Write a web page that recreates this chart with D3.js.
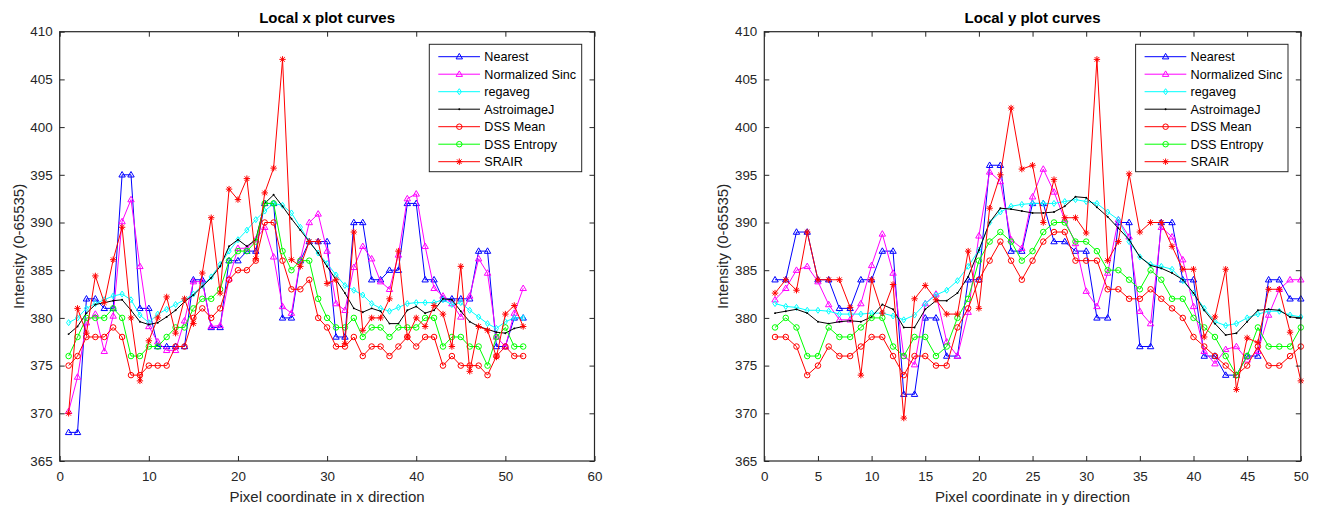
<!DOCTYPE html>
<html>
<head>
<meta charset="utf-8">
<script src="https://cdn.jsdelivr.net/npm/d3@7"></script>
<style>
  body { margin: 0; background: #fff; }
  svg text { font-family: "Liberation Sans", Arial, Helvetica, sans-serif; fill: #262626; }
</style>
</head>
<body>
<svg id="chart" width="1323" height="510"></svg>
<script>
// ---- Series names, tick labels and values ----
const seriesNames = ["Nearest", "Normalized Sinc", "regaveg", "AstroimageJ", "DSS Mean", "DSS Entropy", "SRAIR"];

const xTicksLeft = [0, 10, 20, 30, 40, 50, 60];
const xTicksRight = [0, 5, 10, 15, 20, 25, 30, 35, 40, 45, 50];
const yTicks = [365, 370, 375, 380, 385, 390, 395, 400, 405, 410];

// Local x profile (pixels 1..52)
const nearestX = [368, 368, 382, 382, 381, 381, 395, 395, 381, 381, 377, 377, 377, 377, 384, 384, 379, 379, 386, 386,
  387, 387, 392, 392, 380, 380, 386, 388, 388, 388, 378, 378, 390, 390, 384, 384, 385, 385, 392, 392,
  384, 384, 382, 382, 382, 382, 387, 387, 377, 377, 380, 380];
const sincX = [370.2, 373.8, 379.5, 380.4, 376.5, 380.2, 390.1, 392.4, 385.4, 379.1, 377.5, 376.6, 376.6, 379.7, 383.8, 383.8, 379.1, 379.2, 384.1, 387.3,
  387.3, 388.2, 389.5, 386.4, 381.2, 380.5, 386.1, 390.0, 390.9, 387.0, 381.5, 380.8, 385.3, 387.5, 386.2, 383.8, 383.0, 386.6, 392.5, 393.0,
  387.5, 383.1, 382.3, 381.5, 380.1, 382.3, 386.2, 384.7, 378.0, 377.0, 380.5, 383.1];
const regavegX = [379.5, 380.0, 381.0, 381.5, 381.9, 382.3, 382.5, 381.9, 380.3, 379.5, 380.4, 380.9, 381.4, 381.9, 382.5, 383.4, 384.3, 385.6, 387.0, 388.2,
  389.2, 390.3, 391.2, 392.0, 391.8, 391.0, 389.5, 388.0, 386.8, 385.7, 384.5, 383.4, 382.9, 382.4, 381.5, 381.0, 380.7, 381.1, 381.5, 381.6,
  381.6, 381.6, 381.9, 381.4, 381.6, 380.8, 380.1, 379.4, 378.9, 379.6, 380.0, 380.0];
const astroX = [378.3, 379.1, 380.5, 381.4, 381.6, 381.8, 381.9, 380.8, 379.6, 379.3, 379.5, 380.1, 380.8, 381.7, 382.4, 383.3, 384.2, 385.4, 387.5, 388.2,
  387.5, 388.2, 392.0, 392.9, 391.7, 390.4, 389.2, 388.0, 386.8, 385.4, 384.0, 382.6, 381.0, 380.6, 381.0, 380.7, 379.4, 379.4, 380.8, 381.2,
  380.5, 380.8, 382.0, 381.9, 380.7, 379.6, 379.1, 378.8, 378.5, 378.4, 378.9, 379.1];
const dssMeanX = [375, 376, 378, 378, 378, 379, 378, 374, 374, 375, 375, 375, 377, 377, 380, 381, 380, 381, 384, 385,
  385, 386, 390, 390, 386, 383, 383, 384, 380, 379, 377, 377, 378, 376, 377, 377, 376, 377, 378, 377,
  378, 378, 375, 376, 375, 375, 375, 374, 376, 377, 376, 376];
const dssEntropyX = [376, 378, 380, 380, 380, 381, 380, 376, 376, 377, 377, 378, 379, 379, 381, 382, 382, 383, 386, 387,
  387, 388, 392, 392, 387, 385, 386, 386, 382, 380, 379, 379, 380, 378, 379, 379, 378, 379, 379, 379,
  380, 380, 377, 378, 378, 377, 377, 375, 378, 379, 377, 377];
const srairX = [370.0, 381.0, 378.4, 384.4, 381.6, 386.1, 389.5, 380.0, 373.4, 377.6, 380.0, 382.2, 378.4, 382.0, 379.4, 384.7, 390.5, 382.6, 393.5, 392.4,
  394.6, 386.2, 393.1, 395.7, 407.1, 386.1, 385.4, 388.0, 388.0, 383.6, 384.0, 377.3, 389.0, 378.7, 380.0, 380.0, 382.0, 387.0, 378.0, 380.0,
  379.1, 381.3, 380.4, 377.0, 385.4, 374.4, 379.1, 378.7, 375.9, 380.4, 381.3, 379.1];

// Local y profile (pixels 1..50)
const nearestY = [384, 384, 389, 389, 384, 384, 381, 381, 384, 384, 387, 387, 372, 372, 380, 380, 376, 376, 384, 384,
  396, 396, 387, 387, 392, 392, 388, 388, 387, 387, 380, 380, 390, 390, 377, 377, 390, 390, 384, 384,
  376, 376, 374, 374, 376, 376, 384, 384, 382, 382];
const sincY = [381.9, 383.1, 385.0, 385.4, 383.8, 381.4, 379.8, 379.8, 381.5, 385.5, 388.8, 384.7, 376.0, 375.1, 381.5, 382.5, 377.5, 376.0, 380.6, 388.6,
  395.3, 394.3, 388.2, 387.3, 392.7, 395.6, 393.2, 390.3, 387.8, 382.8, 381.2, 384.7, 390.3, 388.5, 380.7, 379.4, 389.5, 388.5, 386.1, 381.2,
  376.5, 375.2, 376.7, 377.0, 375.6, 376.5, 380.3, 383.0, 384.0, 384.0];
const regavegY = [381.5, 381.2, 381.1, 380.8, 380.8, 380.7, 380.4, 380.4, 380.4, 380.5, 380.5, 380.2, 379.8, 380.3, 381.5, 382.4, 382.9, 383.9, 385.4, 387.1,
  390.0, 391.1, 391.7, 391.9, 392.0, 392.0, 392.0, 392.2, 392.4, 392.2, 392.0, 391.1, 390.3, 388.0, 386.4, 385.6, 385.4, 385.1, 383.9, 382.6,
  381.0, 379.6, 379.2, 379.4, 380.0, 380.4, 380.7, 380.7, 380.3, 380.1];
const astroY = [380.5, 380.7, 380.9, 380.5, 379.6, 379.4, 379.6, 379.7, 379.6, 380.1, 381.4, 380.9, 379.0, 379.0, 380.9, 381.8, 381.8, 382.6, 384.3, 387.1,
  390.0, 391.5, 391.4, 391.2, 391.0, 391.0, 391.1, 391.7, 392.7, 392.6, 391.6, 390.6, 389.4, 388.2, 386.4, 385.5, 385.2, 384.7, 384.0, 382.6,
  380.8, 379.4, 378.2, 378.4, 379.6, 380.8, 380.9, 380.8, 380.1, 380.0];
const dssMeanY = [378, 378, 377, 374, 375, 377, 376, 376, 377, 378, 378, 376, 374, 376, 376, 375, 375, 379, 381, 384,
  386, 388, 386, 384, 386, 388, 389, 389, 386, 386, 386, 383, 383, 382, 382, 383, 382, 381, 380, 378,
  377, 376, 375, 374, 375, 377, 375, 375, 376, 377];
const dssEntropyY = [379, 380, 379, 376, 376, 379, 378, 378, 379, 380, 380, 377, 376, 378, 378, 376, 377, 380, 382, 386,
  388, 389, 388, 386, 387, 389, 390, 390, 388, 388, 387, 385, 385, 384, 383, 385, 384, 382, 382, 380,
  379, 378, 376, 374, 376, 379, 377, 377, 377, 379];
const srairY = [382.6, 384.0, 382.9, 389.0, 384.0, 384.0, 384.0, 381.1, 374.0, 384.0, 380.5, 383.5, 369.5, 382.0, 383.4, 381.9, 380.4, 380.4, 387.0, 381.0,
  391.5, 395.0, 402.0, 395.6, 396.0, 390.0, 394.5, 390.5, 390.5, 388.9, 407.1, 386.0, 388.0, 395.1, 389.0, 390.0, 390.0, 387.5, 385.1, 385.1,
  378.0, 380.1, 385.1, 372.5, 377.9, 377.4, 383.0, 383.0, 378.5, 373.4];

// ---- Styling ----
const seriesColors = ["#0000ff", "#ff00ff", "#00ffff", "#000000", "#ff0000", "#00ff00", "#ff0000"];
const seriesMarkers = ["triangle", "triangle", "diamond", "point", "circle", "circle", "asterisk"];
const axisColor = "#262626";

const svg = d3.select("#chart");

function markerPath(type) {
  switch (type) {
    case "triangle": return "M0,-3.3L3.2,2.2L-3.2,2.2Z";
    case "diamond": return "M0,-3L2.1,0L0,3L-2.1,0Z";
    case "circle": return d3.symbol(d3.symbolCircle, 24)();
    case "asterisk": return "M-3.2,0H3.2M0,-3.2V3.2M-2.3,-2.3L2.3,2.3M-2.3,2.3L2.3,-2.3";
    default: return d3.symbol(d3.symbolCircle, 3)();
  }
}

function drawPanel(cfg) {
  const g = svg.append("g");
  const x = d3.scaleLinear().domain(cfg.xDomain).range([cfg.left, cfg.right]);
  const y = d3.scaleLinear().domain([365, 410]).range([461, 31.7]);

  // series: line first, then markers
  cfg.series.forEach((vals, k) => {
    const pts = vals.map((v, i) => [i + 1, v]);
    const color = seriesColors[k];
    const mtype = seriesMarkers[k];
    const sg = g.append("g");
    sg.append("path")
      .datum(pts)
      .attr("fill", "none")
      .attr("stroke", color)
      .attr("stroke-width", 1)
      .attr("d", d3.line().x(d => x(d[0])).y(d => y(d[1])));
    sg.selectAll("path.m")
      .data(pts)
      .join("path")
      .attr("class", "m")
      .attr("transform", d => `translate(${x(d[0])},${y(d[1])})`)
      .attr("d", markerPath(mtype))
      .attr("fill", mtype === "point" ? color : "none")
      .attr("stroke", color)
      .attr("stroke-width", mtype === "point" ? 0 : 1);
  });

  // axes with inward ticks on all four sides
  const bottom = g.append("g").attr("transform", `translate(0,${y.range()[0]})`)
    .call(d3.axisBottom(x).tickValues(cfg.xTicks).tickSizeInner(-5).tickSizeOuter(0).tickPadding(13));
  const top = g.append("g").attr("transform", `translate(0,${y.range()[1]})`)
    .call(d3.axisTop(x).tickValues(cfg.xTicks).tickSizeInner(-5).tickSizeOuter(0).tickFormat(""));
  const left = g.append("g").attr("transform", `translate(${cfg.left},0)`)
    .call(d3.axisLeft(y).tickValues(yTicks).tickSizeInner(-5).tickSizeOuter(0).tickPadding(7));
  const right = g.append("g").attr("transform", `translate(${cfg.right},0)`)
    .call(d3.axisRight(y).tickValues(yTicks).tickSizeInner(-5).tickSizeOuter(0).tickFormat(""));
  [bottom, top, left, right].forEach(a => {
    a.select(".domain").remove();
    a.selectAll(".tick line").attr("stroke", axisColor).attr("stroke-width", 1);
    a.selectAll("text").attr("font-size", 13.4).attr("font-family", null).style("fill", axisColor);
  });
  bottom.selectAll("text").attr("dy", "0.5em");

  g.append("rect")
    .attr("x", cfg.left).attr("y", y.range()[1])
    .attr("width", cfg.right - cfg.left).attr("height", y.range()[0] - y.range()[1])
    .attr("fill", "none").attr("stroke", axisColor).attr("stroke-width", 1.2);

  // titles
  const cx = (cfg.left + cfg.right) / 2;
  g.append("text").attr("x", cx).attr("y", 23).attr("text-anchor", "middle")
    .attr("font-size", 15).attr("font-weight", "bold").style("fill", "#000").text(cfg.title);
  g.append("text").attr("x", cx).attr("y", 502).attr("text-anchor", "middle")
    .attr("font-size", 15).text(cfg.xLabel);
  g.append("text").attr("transform", `translate(${cfg.left - 36},${(y.range()[0] + y.range()[1]) / 2}) rotate(-90)`)
    .attr("text-anchor", "middle").attr("font-size", 15).text("Intensity (0-65535)");

  // legend
  const lw = 152.4, lh = 127.4;
  const lx = cfg.right - 12.8 - lw, ly = 44.3;
  const lg = g.append("g").attr("transform", `translate(${lx},${ly})`);
  lg.append("rect").attr("width", lw).attr("height", lh)
    .attr("fill", "#fff").attr("stroke", axisColor).attr("stroke-width", 1);
  seriesNames.forEach((name, k) => {
    const ry = 12.4 + k * 17.5;
    lg.append("line").attr("x1", 9).attr("x2", 50.7).attr("y1", ry).attr("y2", ry)
      .attr("stroke", seriesColors[k]).attr("stroke-width", 1);
    lg.append("path").attr("transform", `translate(30,${ry})`)
      .attr("d", markerPath(seriesMarkers[k]))
      .attr("fill", seriesMarkers[k] === "point" ? seriesColors[k] : "none")
      .attr("stroke", seriesColors[k])
      .attr("stroke-width", seriesMarkers[k] === "point" ? 0 : 1);
    lg.append("text").attr("x", 55).attr("y", ry).attr("dy", "0.35em")
      .attr("font-size", 12.6).style("fill", "#000").text(name);
  });
}

drawPanel({
  left: 59.7, right: 594.5, xDomain: [0, 60], xTicks: xTicksLeft,
  title: "Local x plot curves", xLabel: "Pixel coordinate in x direction",
  series: [nearestX, sincX, regavegX, astroX, dssMeanX, dssEntropyX, srairX]
});
drawPanel({
  left: 764.3, right: 1300.8, xDomain: [0, 50], xTicks: xTicksRight,
  title: "Local y plot curves", xLabel: "Pixel coordinate in y direction",
  series: [nearestY, sincY, regavegY, astroY, dssMeanY, dssEntropyY, srairY]
});
</script>
</body>
</html>
